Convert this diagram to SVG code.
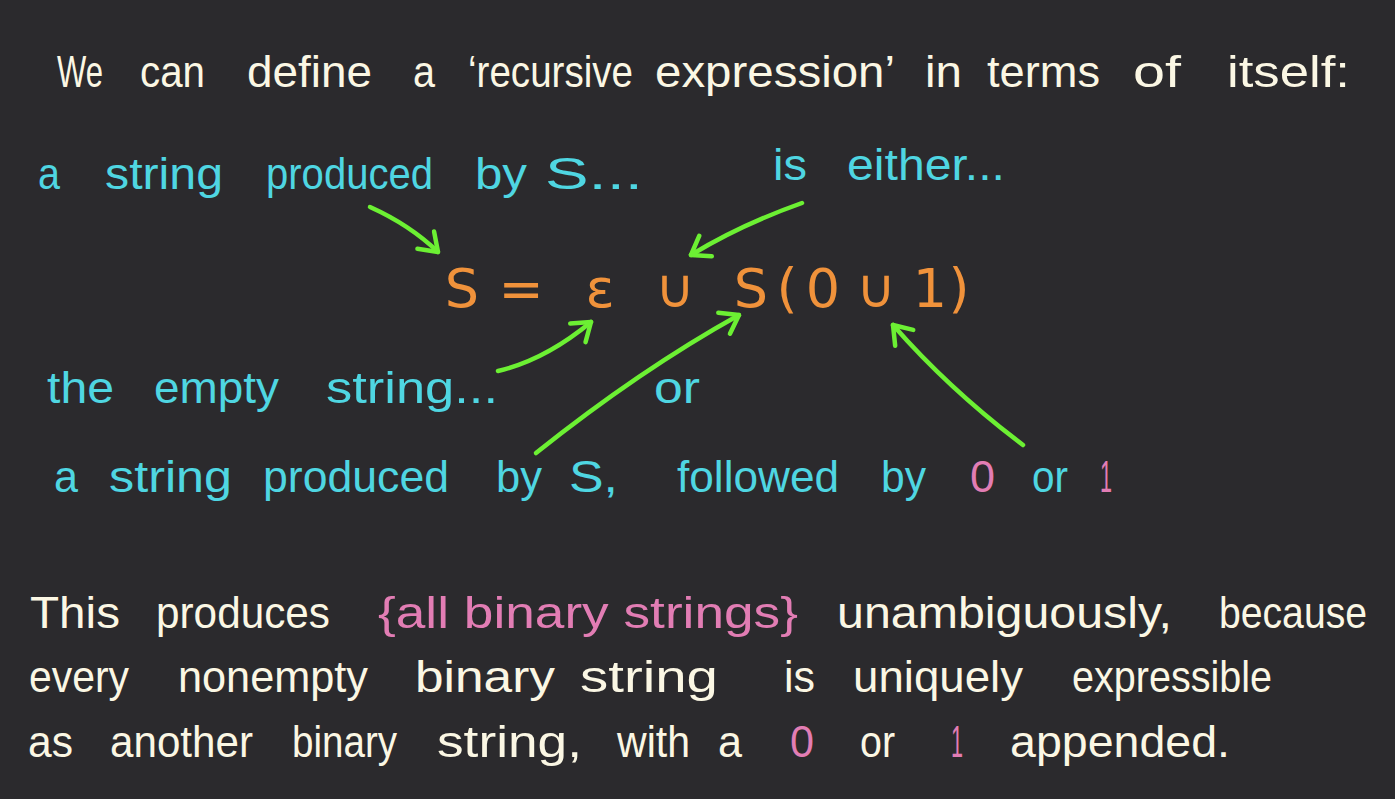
<svg xmlns="http://www.w3.org/2000/svg" width="1395" height="799" viewBox="0 0 1395 799">
<defs>
<style>
text{font-family:"Liberation Sans","DejaVu Sans",sans-serif;font-size:44px}
.w{fill:#fbf7e4}
.c{fill:#4fd6e2}
.p{fill:#e27db4}
.o{fill:#f0923b;font-family:"DejaVu Sans","Liberation Sans",sans-serif;font-size:54px;text-anchor:middle}
.arr{fill:none;stroke:#6cf033;stroke-width:4.5;stroke-linecap:round;stroke-linejoin:round}
</style>
<marker id="ah" markerUnits="userSpaceOnUse" markerWidth="40" markerHeight="40" viewBox="-25 -20 30 40" refX="0" refY="0" orient="auto">
<path d="M -17 -12 L 0 0 L -17 12" fill="none" stroke="#6cf033" stroke-width="4.5" stroke-linecap="round" stroke-linejoin="round"/>
</marker>
</defs>
<rect width="1395" height="799" fill="#2b2a2d"/>

<g id="title">
<text class="w" x="57" y="87" textLength="46" lengthAdjust="spacingAndGlyphs">We</text>
<text class="w" x="140" y="87" textLength="65" lengthAdjust="spacingAndGlyphs">can</text>
<text class="w" x="247" y="87" textLength="125" lengthAdjust="spacingAndGlyphs">define</text>
<text class="w" x="413" y="87" textLength="22" lengthAdjust="spacingAndGlyphs">a</text>
<text class="w" x="468" y="87" textLength="165" lengthAdjust="spacingAndGlyphs">‘recursive</text>
<text class="w" x="655" y="87" textLength="240" lengthAdjust="spacingAndGlyphs">expression’</text>
<text class="w" x="925" y="87" textLength="37" lengthAdjust="spacingAndGlyphs">in</text>
<text class="w" x="987" y="87" textLength="113" lengthAdjust="spacingAndGlyphs">terms</text>
<text class="w" x="1133" y="87" textLength="48" lengthAdjust="spacingAndGlyphs">of</text>
<text class="w" x="1227" y="87" textLength="123" lengthAdjust="spacingAndGlyphs">itself:</text>
</g>

<g id="label-produced-by-S">
<text class="c" x="38" y="189" textLength="22" lengthAdjust="spacingAndGlyphs">a</text>
<text class="c" x="105" y="189" textLength="118" lengthAdjust="spacingAndGlyphs">string</text>
<text class="c" x="266" y="189" textLength="167" lengthAdjust="spacingAndGlyphs">produced</text>
<text class="c" x="475" y="189" textLength="52" lengthAdjust="spacingAndGlyphs">by</text>
<text class="c" x="545" y="189" textLength="98" lengthAdjust="spacingAndGlyphs">S...</text>
</g>

<g id="label-is-either">
<text class="c" x="773" y="180" textLength="34" lengthAdjust="spacingAndGlyphs">is</text>
<text class="c" x="847" y="180" textLength="158" lengthAdjust="spacingAndGlyphs">either...</text>
</g>

<g id="equation">
<text class="o" x="462" y="307">S</text>
<text class="o" x="521" y="307">=</text>
<text class="o" x="600" y="307">ε</text>
<text class="o" x="675" y="307">∪</text>
<text class="o" x="751" y="307">S</text>
<text class="o" x="787" y="307">(</text>
<text class="o" x="823" y="307">0</text>
<text class="o" x="876" y="307">∪</text>
<text class="o" x="930" y="307">1</text>
<text class="o" x="959" y="307">)</text>
</g>

<g id="label-empty-string">
<text class="c" x="47" y="403" textLength="67" lengthAdjust="spacingAndGlyphs">the</text>
<text class="c" x="154" y="403" textLength="125" lengthAdjust="spacingAndGlyphs">empty</text>
<text class="c" x="326" y="403" textLength="172" lengthAdjust="spacingAndGlyphs">string...</text>
</g>

<g id="label-or">
<text class="c" x="654" y="403" textLength="46" lengthAdjust="spacingAndGlyphs">or</text>
</g>

<g id="label-followed">
<text class="c" x="54" y="492" textLength="24" lengthAdjust="spacingAndGlyphs">a</text>
<text class="c" x="109" y="492" textLength="123" lengthAdjust="spacingAndGlyphs">string</text>
<text class="c" x="263" y="492" textLength="186" lengthAdjust="spacingAndGlyphs">produced</text>
<text class="c" x="496" y="492" textLength="46" lengthAdjust="spacingAndGlyphs">by</text>
<text class="c" x="569" y="492" textLength="49" lengthAdjust="spacingAndGlyphs">S,</text>
<text class="c" x="677" y="492" textLength="162" lengthAdjust="spacingAndGlyphs">followed</text>
<text class="c" x="881" y="492" textLength="45" lengthAdjust="spacingAndGlyphs">by</text>
<text class="p" x="970" y="492" textLength="25" lengthAdjust="spacingAndGlyphs">0</text>
<text class="c" x="1032" y="492" textLength="36" lengthAdjust="spacingAndGlyphs">or</text>
<text class="p" x="1100" y="492" textLength="12" lengthAdjust="spacingAndGlyphs">1</text>
</g>

<g id="conclusion">
<text class="w" x="30" y="628" textLength="90" lengthAdjust="spacingAndGlyphs">This</text>
<text class="w" x="156" y="628" textLength="174" lengthAdjust="spacingAndGlyphs">produces</text>
<text class="p" x="378" y="628" textLength="420" lengthAdjust="spacingAndGlyphs">{all binary strings}</text>
<text class="w" x="837" y="628" textLength="335" lengthAdjust="spacingAndGlyphs">unambiguously,</text>
<text class="w" x="1219" y="628" textLength="148" lengthAdjust="spacingAndGlyphs">because</text>

<text class="w" x="29" y="692" textLength="100" lengthAdjust="spacingAndGlyphs">every</text>
<text class="w" x="178" y="692" textLength="190" lengthAdjust="spacingAndGlyphs">nonempty</text>
<text class="w" x="415" y="692" textLength="140" lengthAdjust="spacingAndGlyphs">binary</text>
<text class="w" x="580" y="692" textLength="138" lengthAdjust="spacingAndGlyphs">string</text>
<text class="w" x="784" y="692" textLength="31" lengthAdjust="spacingAndGlyphs">is</text>
<text class="w" x="853" y="692" textLength="170" lengthAdjust="spacingAndGlyphs">uniquely</text>
<text class="w" x="1072" y="692" textLength="200" lengthAdjust="spacingAndGlyphs">expressible</text>

<text class="w" x="28" y="757" textLength="45" lengthAdjust="spacingAndGlyphs">as</text>
<text class="w" x="110" y="757" textLength="143" lengthAdjust="spacingAndGlyphs">another</text>
<text class="w" x="292" y="757" textLength="105" lengthAdjust="spacingAndGlyphs">binary</text>
<text class="w" x="437" y="757" textLength="145" lengthAdjust="spacingAndGlyphs">string,</text>
<text class="w" x="617" y="757" textLength="73" lengthAdjust="spacingAndGlyphs">with</text>
<text class="w" x="718" y="757" textLength="24" lengthAdjust="spacingAndGlyphs">a</text>
<text class="p" x="790" y="757" textLength="24" lengthAdjust="spacingAndGlyphs">0</text>
<text class="w" x="860" y="757" textLength="35" lengthAdjust="spacingAndGlyphs">or</text>
<text class="p" x="951" y="757" textLength="12" lengthAdjust="spacingAndGlyphs">1</text>
<text class="w" x="1010" y="757" textLength="220" lengthAdjust="spacingAndGlyphs">appended.</text>
</g>

<g id="connectors">
<path class="arr" marker-end="url(#ah)" d="M 370 207 Q 410 225 438 252"/>
<path class="arr" marker-end="url(#ah)" d="M 802 203 Q 740 225 691 255"/>
<path class="arr" marker-end="url(#ah)" d="M 498 371 Q 545 360 591 322"/>
<path class="arr" marker-end="url(#ah)" d="M 536 453 Q 640 370 739 315"/>
<path class="arr" marker-end="url(#ah)" d="M 1023 445 Q 950 390 893 325"/>
</g>
</svg>
